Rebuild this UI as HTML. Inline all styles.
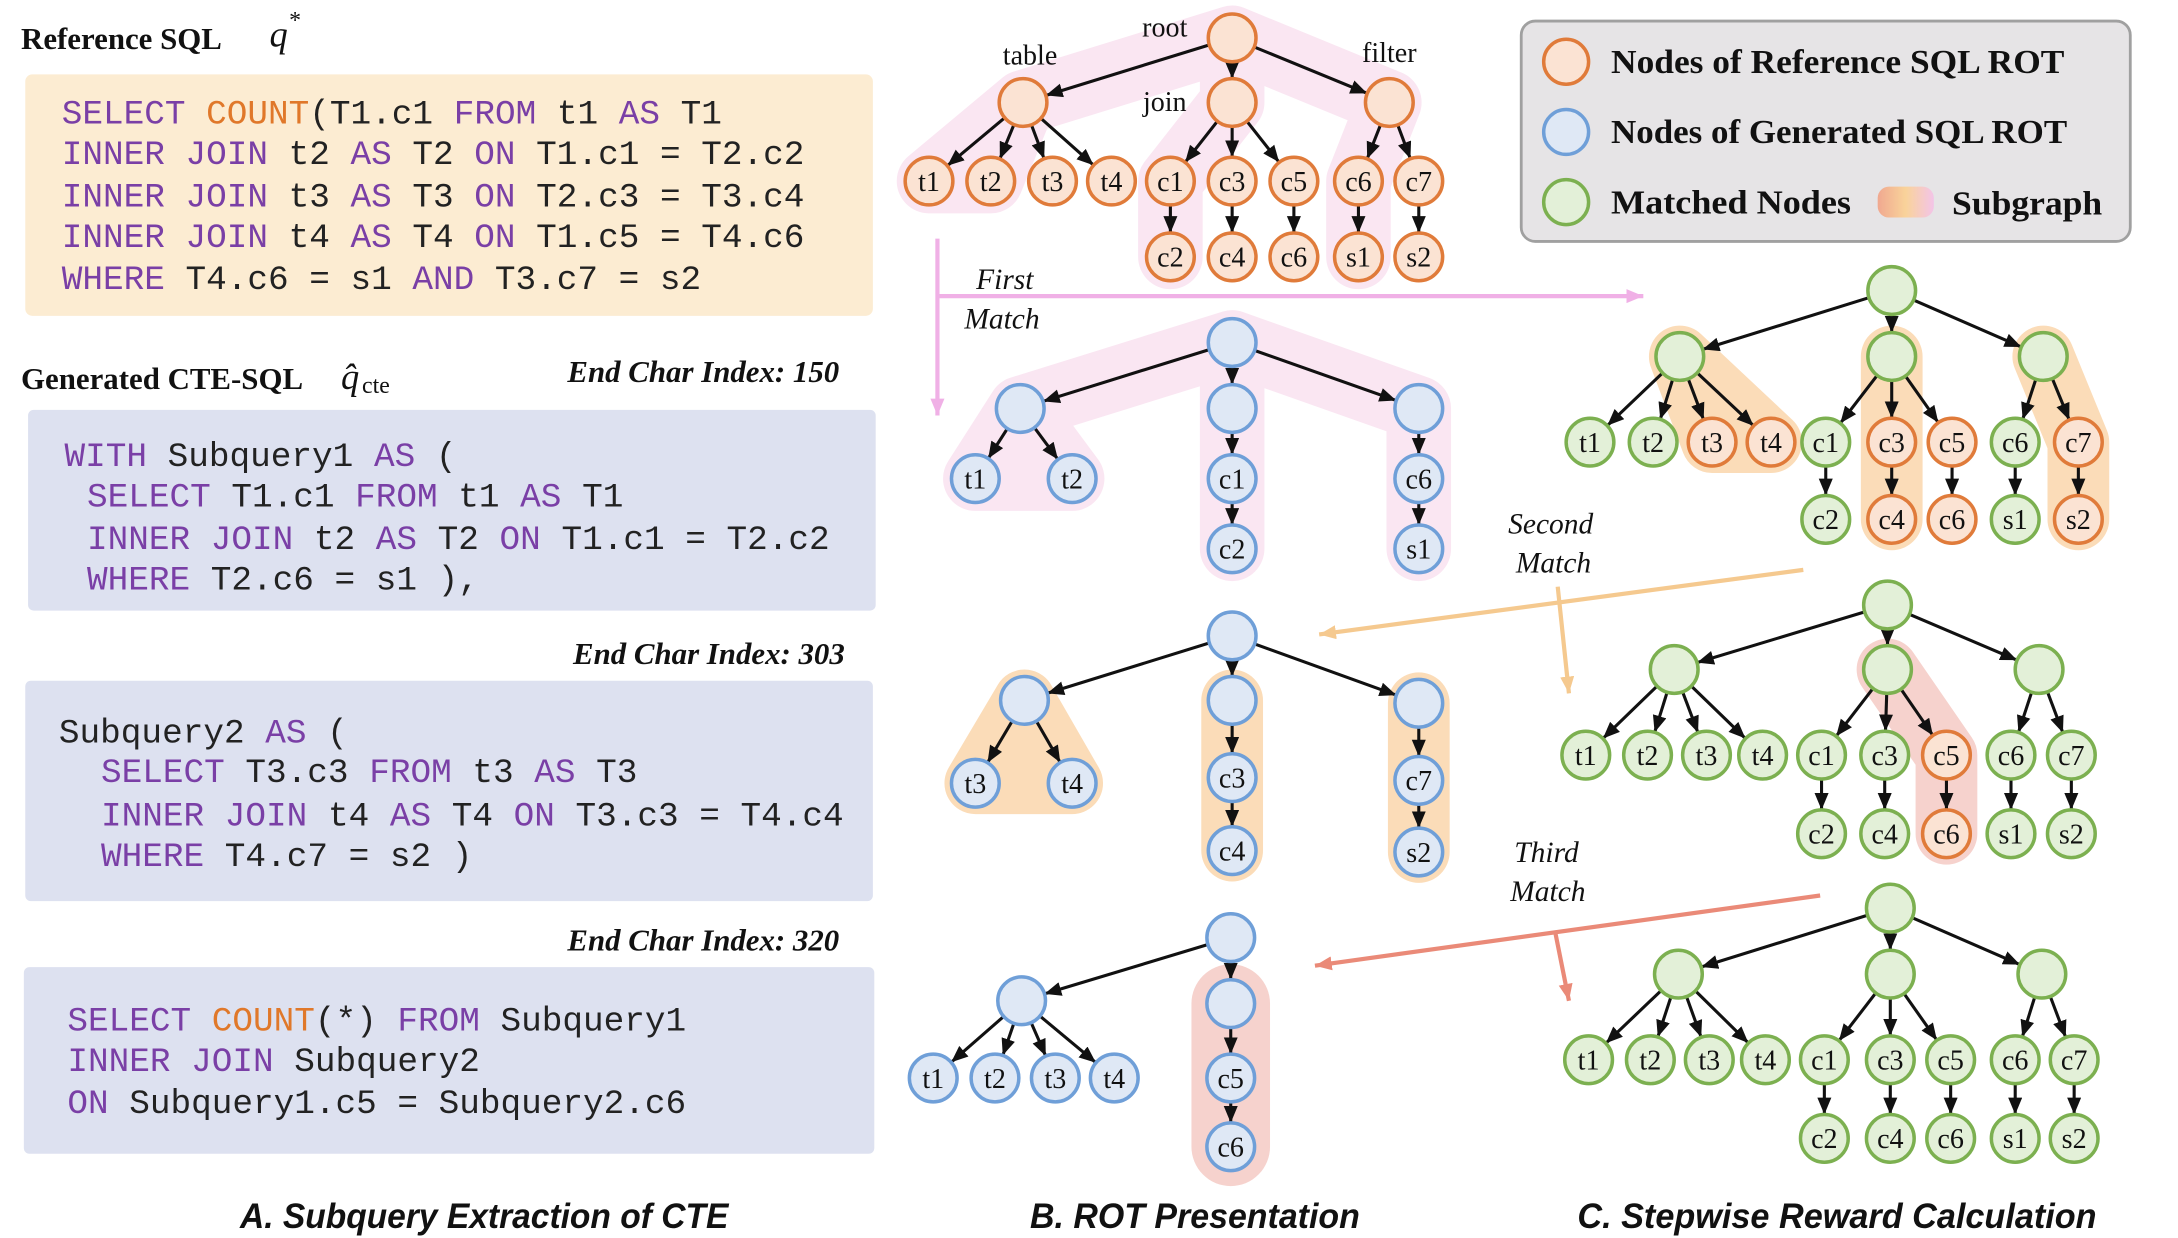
<!DOCTYPE html>
<html><head><meta charset="utf-8"><style>
html,body{margin:0;padding:0;background:#fff;}
svg{display:block;}
.code{font-family:"Liberation Mono",monospace;font-size:24.5px;fill:#222;}
.k{fill:#7a3fa6;}
.o{fill:#e0782a;}
.ttl{font-family:"Liberation Serif",serif;font-weight:bold;font-size:22px;fill:#111;}
.eci{font-family:"Liberation Serif",serif;font-weight:bold;font-style:italic;font-size:22px;fill:#111;}
.cap{font-family:"Liberation Sans",sans-serif;font-weight:bold;font-style:italic;font-size:25px;fill:#111;}
.nl{font-family:"Liberation Serif",serif;font-size:20px;fill:#111;}
.lbl{font-family:"Liberation Serif",serif;font-size:20px;fill:#111;}
.mt{font-family:"Liberation Serif",serif;font-style:italic;font-size:21px;fill:#111;}
.leg{font-family:"Liberation Serif",serif;font-weight:bold;font-size:24px;fill:#111;}
.e line{stroke:#111;stroke-width:2.2;marker-end:url(#ah);}
.or circle{fill:#fbe3d3;stroke:#e07b3a;stroke-width:2.5;}
.bl circle{fill:#dfe8f5;stroke:#6f9fd8;stroke-width:2.5;}
.gr circle{fill:#e3f0d8;stroke:#7cb050;stroke-width:2.5;}
.sh{fill:none;stroke-linejoin:round;stroke-linecap:round;}
</style></head><body>
<svg width="2178" height="1238" viewBox="0 0 1552 882" preserveAspectRatio="none" xmlns="http://www.w3.org/2000/svg">
<defs>
<marker id="ah" markerUnits="userSpaceOnUse" markerWidth="14" markerHeight="12" refX="29" refY="5" orient="auto"><path d="M0,0 L12,5 L0,10 z" fill="#111"/></marker>
<marker id="pa" markerUnits="userSpaceOnUse" markerWidth="14" markerHeight="12" refX="12" refY="5" orient="auto"><path d="M0,0 L12,5 L0,10 z" fill="#f0b0e6"/></marker>
<marker id="oa" markerUnits="userSpaceOnUse" markerWidth="14" markerHeight="12" refX="12" refY="5" orient="auto"><path d="M0,0 L12,5 L0,10 z" fill="#f5c98f"/></marker>
<marker id="ra" markerUnits="userSpaceOnUse" markerWidth="14" markerHeight="12" refX="12" refY="5" orient="auto"><path d="M0,0 L12,5 L0,10 z" fill="#ea8a78"/></marker>
<linearGradient id="sg" x1="0" x2="1"><stop offset="0" stop-color="#f0a890"/><stop offset="0.5" stop-color="#f9d39a"/><stop offset="1" stop-color="#f3c4e8"/></linearGradient>
</defs>

<!-- LEFT PANEL -->
<text x="15" y="35" class="ttl">Reference SQL</text>
<text x="192" y="33" font-family="Liberation Serif,serif" font-style="italic" font-size="26" fill="#111">q</text>
<text x="206" y="20" font-family="Liberation Serif,serif" font-size="17" fill="#111">*</text>
<rect x="18" y="53" width="604" height="172" rx="5" fill="#fcecd2"/>
<text class="code"><tspan x="44" y="88"><tspan class="k">SELECT</tspan> <tspan class="o">COUNT</tspan>(T1.c1 <tspan class="k">FROM</tspan> t1 <tspan class="k">AS</tspan> T1</tspan>
<tspan x="44" y="117"><tspan class="k">INNER JOIN</tspan> t2 <tspan class="k">AS</tspan> T2 <tspan class="k">ON</tspan> T1.c1 = T2.c2</tspan>
<tspan x="44" y="147"><tspan class="k">INNER JOIN</tspan> t3 <tspan class="k">AS</tspan> T3 <tspan class="k">ON</tspan> T2.c3 = T3.c4</tspan>
<tspan x="44" y="176"><tspan class="k">INNER JOIN</tspan> t4 <tspan class="k">AS</tspan> T4 <tspan class="k">ON</tspan> T1.c5 = T4.c6</tspan>
<tspan x="44" y="206"><tspan class="k">WHERE</tspan> T4.c6 = s1 <tspan class="k">AND</tspan>  T3.c7 = s2</tspan></text>

<text x="15" y="277" class="ttl">Generated CTE-SQL</text>
<text x="243" y="277" font-family="Liberation Serif,serif" font-style="italic" font-size="26" fill="#111">q̂</text>
<text x="258" y="280" font-family="Liberation Serif,serif" font-size="17" fill="#111">cte</text>
<text x="598" y="272" class="eci" text-anchor="end">End Char Index: 150</text>
<rect x="20" y="292" width="604" height="143" rx="4" fill="#dde1f0"/>
<text class="code"><tspan x="46" y="332"><tspan class="k">WITH</tspan> Subquery1 <tspan class="k">AS</tspan> (</tspan>
<tspan x="62" y="361"><tspan class="k">SELECT</tspan> T1.c1 <tspan class="k">FROM</tspan> t1 <tspan class="k">AS</tspan> T1</tspan>
<tspan x="62" y="391"><tspan class="k">INNER JOIN</tspan> t2 <tspan class="k">AS</tspan> T2 <tspan class="k">ON</tspan> T1.c1 = T2.c2</tspan>
<tspan x="62" y="420"><tspan class="k">WHERE</tspan> T2.c6 = s1 ),</tspan></text>

<text x="602" y="473" class="eci" text-anchor="end">End Char Index: 303</text>
<rect x="18" y="485" width="604" height="157" rx="4" fill="#dde1f0"/>
<text class="code"><tspan x="42" y="529">Subquery2 <tspan class="k">AS</tspan> (</tspan>
<tspan x="72" y="557"><tspan class="k">SELECT</tspan> T3.c3 <tspan class="k">FROM</tspan> t3 <tspan class="k">AS</tspan> T3</tspan>
<tspan x="72" y="588"><tspan class="k">INNER JOIN</tspan> t4 <tspan class="k">AS</tspan> T4 <tspan class="k">ON</tspan> T3.c3 = T4.c4</tspan>
<tspan x="72" y="617"><tspan class="k">WHERE</tspan> T4.c7 = s2 )</tspan></text>

<text x="598" y="677" class="eci" text-anchor="end">End Char Index: 320</text>
<rect x="17" y="689" width="606" height="133" rx="4" fill="#dde1f0"/>
<text class="code"><tspan x="48" y="734"><tspan class="k">SELECT</tspan> <tspan class="o">COUNT</tspan>(*) <tspan class="k">FROM</tspan> Subquery1</tspan>
<tspan x="48" y="763"><tspan class="k">INNER JOIN</tspan> Subquery2</tspan>
<tspan x="48" y="793"><tspan class="k">ON</tspan> Subquery1.c5 = Subquery2.c6</tspan></text>

<text x="171" y="875" class="cap" textLength="348" lengthAdjust="spacingAndGlyphs">A. Subquery Extraction of CTE</text>
<text x="734" y="875" class="cap" textLength="235" lengthAdjust="spacingAndGlyphs">B. ROT Presentation</text>
<text x="1124" y="875" class="cap" textLength="370" lengthAdjust="spacingAndGlyphs">C. Stepwise Reward Calculation</text>

<!-- LEGEND -->
<rect x="1084" y="15" width="434" height="157" rx="10" fill="#e6e4e6" stroke="#a0a0a0" stroke-width="2"/>
<g class="or"><circle cx="1116" cy="44" r="16"/></g>
<g class="bl"><circle cx="1116" cy="94" r="16"/></g>
<g class="gr"><circle cx="1116" cy="144" r="16"/></g>
<text x="1148" y="52" class="leg" textLength="323" lengthAdjust="spacingAndGlyphs">Nodes of  Reference SQL ROT</text>
<text x="1148" y="102" class="leg" textLength="325" lengthAdjust="spacingAndGlyphs">Nodes of  Generated SQL ROT</text>
<text x="1148" y="152" class="leg" textLength="171" lengthAdjust="spacingAndGlyphs">Matched Nodes</text>
<rect x="1338" y="133" width="40" height="22" rx="8" fill="url(#sg)"/>
<text x="1391" y="153" class="leg" textLength="107" lengthAdjust="spacingAndGlyphs">Subgraph</text>

<!-- SHADING -->
<g class="sh" stroke="#fae6f2" stroke-width="46">
<path d="M662,129 L729,73 L706,129 Z M729,73 L878,27 L990,73 M878,27 L878,73 L834,129 L834,183 M990,73 L968,129 L968,183"/>
<path d="M695,341 L727,291 L764,341 Z M727,291 L878,244 L1011,291 L1011,391 M878,244 L878,391"/>
</g>
<g class="sh" stroke="#fbdcb8" stroke-width="44">
<path d="M1197,254 L1220,315 L1262,315 Z M1348,254 L1348,370 M1456,254 L1481,315 L1481,370"/>
<path d="M730,499 L695,558 L764,558 Z M878,499 L878,606 M1011,501 L1011,607" fill="#fbdcb8"/>
</g>
<g class="sh" stroke="#f6d2cd" stroke-width="44">
<path d="M1345,477 L1387,538 L1387,594"/>
<path d="M877,715 L877,817" stroke-width="56"/>
</g>

<!-- MATCH ARROWS -->
<g stroke="#f0b0e6" stroke-width="3" fill="none">
<line x1="668" y1="170" x2="668" y2="296" marker-end="url(#pa)"/>
<line x1="668" y1="211" x2="1171" y2="211" marker-end="url(#pa)"/>
</g>
<text x="716" y="206" class="mt" text-anchor="middle">First</text>
<text x="714" y="234" class="mt" text-anchor="middle">Match</text>
<g stroke="#f5c98f" stroke-width="3" fill="none">
<line x1="1285" y1="406" x2="940" y2="452" marker-end="url(#oa)"/>
<line x1="1110" y1="418" x2="1118" y2="494" marker-end="url(#oa)"/>
</g>
<text x="1105" y="380" class="mt" text-anchor="middle">Second</text>
<text x="1107" y="408" class="mt" text-anchor="middle">Match</text>
<g stroke="#ea8a78" stroke-width="3" fill="none">
<line x1="1297" y1="638" x2="937" y2="688" marker-end="url(#ra)"/>
<line x1="1108" y1="663" x2="1118" y2="713" marker-end="url(#ra)"/>
</g>
<text x="1102" y="614" class="mt" text-anchor="middle">Third</text>
<text x="1103" y="642" class="mt" text-anchor="middle">Match</text>

<!-- REFERENCE TREE -->
<g class="e">
<line x1="878" y1="27" x2="729" y2="73"/><line x1="878" y1="27" x2="878" y2="73"/><line x1="878" y1="27" x2="990" y2="73"/>
<line x1="729" y1="73" x2="662" y2="129"/><line x1="729" y1="73" x2="706" y2="129"/><line x1="729" y1="73" x2="750" y2="129"/><line x1="729" y1="73" x2="792" y2="129"/>
<line x1="878" y1="73" x2="834" y2="129"/><line x1="878" y1="73" x2="878" y2="129"/><line x1="878" y1="73" x2="922" y2="129"/>
<line x1="990" y1="73" x2="968" y2="129"/><line x1="990" y1="73" x2="1011" y2="129"/>
<line x1="834" y1="129" x2="834" y2="183"/><line x1="878" y1="129" x2="878" y2="183"/><line x1="922" y1="129" x2="922" y2="183"/><line x1="968" y1="129" x2="968" y2="183"/><line x1="1011" y1="129" x2="1011" y2="183"/>
</g>
<g class="or">
<circle cx="878" cy="27" r="17"/><circle cx="729" cy="73" r="17"/><circle cx="878" cy="73" r="17"/><circle cx="990" cy="73" r="17"/>
<circle cx="662" cy="129" r="17"/><circle cx="706" cy="129" r="17"/><circle cx="750" cy="129" r="17"/><circle cx="792" cy="129" r="17"/>
<circle cx="834" cy="129" r="17"/><circle cx="878" cy="129" r="17"/><circle cx="922" cy="129" r="17"/><circle cx="968" cy="129" r="17"/><circle cx="1011" cy="129" r="17"/>
<circle cx="834" cy="183" r="17"/><circle cx="878" cy="183" r="17"/><circle cx="922" cy="183" r="17"/><circle cx="968" cy="183" r="17"/><circle cx="1011" cy="183" r="17"/>
</g>
<g class="nl" text-anchor="middle">
<text x="662" y="136">t1</text><text x="706" y="136">t2</text><text x="750" y="136">t3</text><text x="792" y="136">t4</text>
<text x="834" y="136">c1</text><text x="878" y="136">c3</text><text x="922" y="136">c5</text><text x="968" y="136">c6</text><text x="1011" y="136">c7</text>
<text x="834" y="190">c2</text><text x="878" y="190">c4</text><text x="922" y="190">c6</text><text x="968" y="190">s1</text><text x="1011" y="190">s2</text>
</g>
<g class="lbl" text-anchor="middle">
<text x="830" y="26">root</text><text x="734" y="46">table</text><text x="830" y="79">join</text><text x="990" y="44">filter</text>
</g>

<!-- BLUE TREE 1 -->
<g class="e">
<line x1="878" y1="244" x2="727" y2="291"/><line x1="878" y1="244" x2="878" y2="291"/><line x1="878" y1="244" x2="1011" y2="291"/>
<line x1="727" y1="291" x2="695" y2="341"/><line x1="727" y1="291" x2="764" y2="341"/>
<line x1="878" y1="291" x2="878" y2="341"/><line x1="878" y1="341" x2="878" y2="391"/>
<line x1="1011" y1="291" x2="1011" y2="341"/><line x1="1011" y1="341" x2="1011" y2="391"/>
</g>
<g class="bl">
<circle cx="878" cy="244" r="17"/><circle cx="727" cy="291" r="17"/><circle cx="878" cy="291" r="17"/><circle cx="1011" cy="291" r="17"/>
<circle cx="695" cy="341" r="17"/><circle cx="764" cy="341" r="17"/><circle cx="878" cy="341" r="17"/><circle cx="878" cy="391" r="17"/><circle cx="1011" cy="341" r="17"/><circle cx="1011" cy="391" r="17"/>
</g>
<g class="nl" text-anchor="middle">
<text x="695" y="348">t1</text><text x="764" y="348">t2</text><text x="878" y="348">c1</text><text x="878" y="398">c2</text><text x="1011" y="348">c6</text><text x="1011" y="398">s1</text>
</g>

<!-- BLUE TREE 2 -->
<g class="e">
<line x1="878" y1="453" x2="730" y2="499"/><line x1="878" y1="453" x2="878" y2="499"/><line x1="878" y1="453" x2="1011" y2="501"/>
<line x1="730" y1="499" x2="695" y2="558"/><line x1="730" y1="499" x2="764" y2="558"/>
<line x1="878" y1="499" x2="878" y2="554"/><line x1="878" y1="554" x2="878" y2="606"/>
<line x1="1011" y1="501" x2="1011" y2="556"/><line x1="1011" y1="556" x2="1011" y2="607"/>
</g>
<g class="bl">
<circle cx="878" cy="453" r="17"/><circle cx="730" cy="499" r="17"/><circle cx="878" cy="499" r="17"/><circle cx="1011" cy="501" r="17"/>
<circle cx="695" cy="558" r="17"/><circle cx="764" cy="558" r="17"/><circle cx="878" cy="554" r="17"/><circle cx="878" cy="606" r="17"/><circle cx="1011" cy="556" r="17"/><circle cx="1011" cy="607" r="17"/>
</g>
<g class="nl" text-anchor="middle">
<text x="695" y="565">t3</text><text x="764" y="565">t4</text><text x="878" y="561">c3</text><text x="878" y="613">c4</text><text x="1011" y="563">c7</text><text x="1011" y="614">s2</text>
</g>

<!-- BLUE TREE 3 -->
<g class="e">
<line x1="877" y1="668" x2="728" y2="713"/><line x1="877" y1="668" x2="877" y2="715"/>
<line x1="728" y1="713" x2="665" y2="768"/><line x1="728" y1="713" x2="709" y2="768"/><line x1="728" y1="713" x2="752" y2="768"/><line x1="728" y1="713" x2="794" y2="768"/>
<line x1="877" y1="715" x2="877" y2="768"/><line x1="877" y1="768" x2="877" y2="817"/>
</g>
<g class="bl">
<circle cx="877" cy="668" r="17"/><circle cx="728" cy="713" r="17"/><circle cx="877" cy="715" r="17"/>
<circle cx="665" cy="768" r="17"/><circle cx="709" cy="768" r="17"/><circle cx="752" cy="768" r="17"/><circle cx="794" cy="768" r="17"/><circle cx="877" cy="768" r="17"/><circle cx="877" cy="817" r="17"/>
</g>
<g class="nl" text-anchor="middle">
<text x="665" y="775">t1</text><text x="709" y="775">t2</text><text x="752" y="775">t3</text><text x="794" y="775">t4</text><text x="877" y="775">c5</text><text x="877" y="824">c6</text>
</g>

<!-- GREEN TREE 1 -->
<g class="e">
<line x1="1348" y1="207" x2="1197" y2="254"/><line x1="1348" y1="207" x2="1348" y2="254"/><line x1="1348" y1="207" x2="1456" y2="254"/>
<line x1="1197" y1="254" x2="1133" y2="315"/><line x1="1197" y1="254" x2="1178" y2="315"/><line x1="1197" y1="254" x2="1220" y2="315"/><line x1="1197" y1="254" x2="1262" y2="315"/>
<line x1="1348" y1="254" x2="1301" y2="315"/><line x1="1348" y1="254" x2="1348" y2="315"/><line x1="1348" y1="254" x2="1391" y2="315"/>
<line x1="1456" y1="254" x2="1436" y2="315"/><line x1="1456" y1="254" x2="1481" y2="315"/>
<line x1="1301" y1="315" x2="1301" y2="370"/><line x1="1348" y1="315" x2="1348" y2="370"/><line x1="1391" y1="315" x2="1391" y2="370"/><line x1="1436" y1="315" x2="1436" y2="370"/><line x1="1481" y1="315" x2="1481" y2="370"/>
</g>
<g class="gr">
<circle cx="1348" cy="207" r="17"/><circle cx="1197" cy="254" r="17"/><circle cx="1348" cy="254" r="17"/><circle cx="1456" cy="254" r="17"/>
<circle cx="1133" cy="315" r="17"/><circle cx="1178" cy="315" r="17"/><circle cx="1301" cy="315" r="17"/><circle cx="1436" cy="315" r="17"/>
<circle cx="1301" cy="370" r="17"/><circle cx="1436" cy="370" r="17"/>
</g>
<g class="or">
<circle cx="1220" cy="315" r="17"/><circle cx="1262" cy="315" r="17"/><circle cx="1348" cy="315" r="17"/><circle cx="1391" cy="315" r="17"/><circle cx="1481" cy="315" r="17"/>
<circle cx="1348" cy="370" r="17"/><circle cx="1391" cy="370" r="17"/><circle cx="1481" cy="370" r="17"/>
</g>
<g class="nl" text-anchor="middle">
<text x="1133" y="322">t1</text><text x="1178" y="322">t2</text><text x="1220" y="322">t3</text><text x="1262" y="322">t4</text><text x="1301" y="322">c1</text><text x="1348" y="322">c3</text><text x="1391" y="322">c5</text><text x="1436" y="322">c6</text><text x="1481" y="322">c7</text>
<text x="1301" y="377">c2</text><text x="1348" y="377">c4</text><text x="1391" y="377">c6</text><text x="1436" y="377">s1</text><text x="1481" y="377">s2</text>
</g>

<!-- GREEN TREE 2 -->
<g class="e">
<line x1="1345" y1="431" x2="1193" y2="477"/><line x1="1345" y1="431" x2="1345" y2="477"/><line x1="1345" y1="431" x2="1453" y2="477"/>
<line x1="1193" y1="477" x2="1130" y2="538"/><line x1="1193" y1="477" x2="1174" y2="538"/><line x1="1193" y1="477" x2="1216" y2="538"/><line x1="1193" y1="477" x2="1256" y2="538"/>
<line x1="1345" y1="477" x2="1298" y2="538"/><line x1="1345" y1="477" x2="1343" y2="538"/><line x1="1345" y1="477" x2="1387" y2="538"/>
<line x1="1453" y1="477" x2="1433" y2="538"/><line x1="1453" y1="477" x2="1476" y2="538"/>
<line x1="1298" y1="538" x2="1298" y2="594"/><line x1="1343" y1="538" x2="1343" y2="594"/><line x1="1387" y1="538" x2="1387" y2="594"/><line x1="1433" y1="538" x2="1433" y2="594"/><line x1="1476" y1="538" x2="1476" y2="594"/>
</g>
<g class="gr">
<circle cx="1345" cy="431" r="17"/><circle cx="1193" cy="477" r="17"/><circle cx="1345" cy="477" r="17"/><circle cx="1453" cy="477" r="17"/>
<circle cx="1130" cy="538" r="17"/><circle cx="1174" cy="538" r="17"/><circle cx="1216" cy="538" r="17"/><circle cx="1256" cy="538" r="17"/><circle cx="1298" cy="538" r="17"/><circle cx="1343" cy="538" r="17"/><circle cx="1433" cy="538" r="17"/><circle cx="1476" cy="538" r="17"/>
<circle cx="1298" cy="594" r="17"/><circle cx="1343" cy="594" r="17"/><circle cx="1433" cy="594" r="17"/><circle cx="1476" cy="594" r="17"/>
</g>
<g class="or"><circle cx="1387" cy="538" r="17"/><circle cx="1387" cy="594" r="17"/></g>
<g class="nl" text-anchor="middle">
<text x="1130" y="545">t1</text><text x="1174" y="545">t2</text><text x="1216" y="545">t3</text><text x="1256" y="545">t4</text><text x="1298" y="545">c1</text><text x="1343" y="545">c3</text><text x="1387" y="545">c5</text><text x="1433" y="545">c6</text><text x="1476" y="545">c7</text>
<text x="1298" y="601">c2</text><text x="1343" y="601">c4</text><text x="1387" y="601">c6</text><text x="1433" y="601">s1</text><text x="1476" y="601">s2</text>
</g>

<!-- GREEN TREE 3 -->
<g class="e">
<line x1="1347" y1="647" x2="1196" y2="694"/><line x1="1347" y1="647" x2="1347" y2="694"/><line x1="1347" y1="647" x2="1455" y2="694"/>
<line x1="1196" y1="694" x2="1132" y2="755"/><line x1="1196" y1="694" x2="1176" y2="755"/><line x1="1196" y1="694" x2="1218" y2="755"/><line x1="1196" y1="694" x2="1258" y2="755"/>
<line x1="1347" y1="694" x2="1300" y2="755"/><line x1="1347" y1="694" x2="1347" y2="755"/><line x1="1347" y1="694" x2="1390" y2="755"/>
<line x1="1455" y1="694" x2="1436" y2="755"/><line x1="1455" y1="694" x2="1478" y2="755"/>
<line x1="1300" y1="755" x2="1300" y2="811"/><line x1="1347" y1="755" x2="1347" y2="811"/><line x1="1390" y1="755" x2="1390" y2="811"/><line x1="1436" y1="755" x2="1436" y2="811"/><line x1="1478" y1="755" x2="1478" y2="811"/>
</g>
<g class="gr">
<circle cx="1347" cy="647" r="17"/><circle cx="1196" cy="694" r="17"/><circle cx="1347" cy="694" r="17"/><circle cx="1455" cy="694" r="17"/>
<circle cx="1132" cy="755" r="17"/><circle cx="1176" cy="755" r="17"/><circle cx="1218" cy="755" r="17"/><circle cx="1258" cy="755" r="17"/><circle cx="1300" cy="755" r="17"/><circle cx="1347" cy="755" r="17"/><circle cx="1390" cy="755" r="17"/><circle cx="1436" cy="755" r="17"/><circle cx="1478" cy="755" r="17"/>
<circle cx="1300" cy="811" r="17"/><circle cx="1347" cy="811" r="17"/><circle cx="1390" cy="811" r="17"/><circle cx="1436" cy="811" r="17"/><circle cx="1478" cy="811" r="17"/>
</g>
<g class="nl" text-anchor="middle">
<text x="1132" y="762">t1</text><text x="1176" y="762">t2</text><text x="1218" y="762">t3</text><text x="1258" y="762">t4</text><text x="1300" y="762">c1</text><text x="1347" y="762">c3</text><text x="1390" y="762">c5</text><text x="1436" y="762">c6</text><text x="1478" y="762">c7</text>
<text x="1300" y="818">c2</text><text x="1347" y="818">c4</text><text x="1390" y="818">c6</text><text x="1436" y="818">s1</text><text x="1478" y="818">s2</text>
</g>
</svg>
</body></html>
